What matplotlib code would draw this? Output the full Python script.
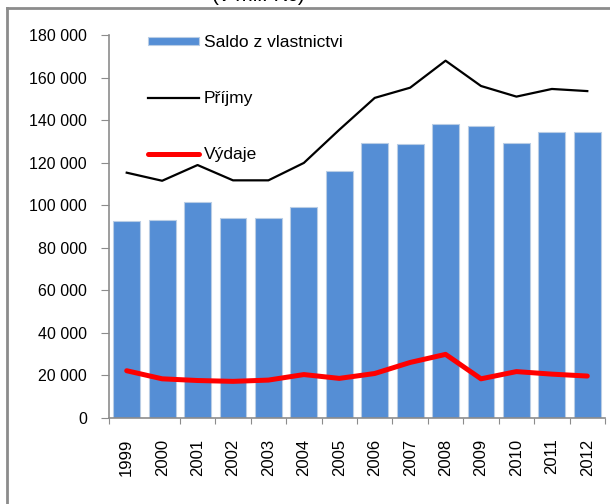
import matplotlib.pyplot as plt
from matplotlib.lines import Line2D
from matplotlib.ticker import FuncFormatter, FixedLocator

plt.rcParams["font.family"] = ["Liberation Sans", "DejaVu Sans"]

years = ["1999", "2000", "2001", "2002", "2003", "2004", "2005",
         "2006", "2007", "2008", "2009", "2010", "2011", "2012"]
saldo = [92400, 93000, 101500, 94100, 94100, 99300, 116200,
         129400, 128900, 138300, 137300, 129400, 134300, 134300]
prijmy = [115300, 111500, 118900, 111700, 111700, 119900, 135500,
          150500, 155300, 168000, 156100, 151100, 154700, 153700]
vydaje = [22100, 18300, 17500, 17100, 17700, 20300, 18500,
          20800, 26000, 29800, 18300, 21700, 20500, 19600]

W, H = 610, 504
fig = plt.figure(figsize=(W / 100, H / 100), dpi=100)

# outer frame (only left and top edges are visible in the crop)
fig.add_artist(Line2D([7 / W, 7 / W], [0, 1 - 8 / H], transform=fig.transFigure,
                      color="#8c8c8c", lw=2))
fig.add_artist(Line2D([7 / W, 1], [1 - 8 / H, 1 - 8 / H], transform=fig.transFigure,
                      color="#8c8c8c", lw=2))
fig.text(305 / W, 1 - 5 / H, "(v mil. Kč)", ha="right", va="bottom",
         fontsize=15, color="black")

left, right, top, bottom = 109, 605, 35.2, 417.7
ax = fig.add_axes([left / W, 1 - bottom / H, (right - left) / W, (bottom - top) / H])

x = list(range(len(years)))
bars = ax.bar(x, saldo, width=0.76, color="#558ed5", edgecolor="#b9cde5", linewidth=0.8,
              label="Saldo z vlastnictvi", zorder=2)
l1, = ax.plot(x, prijmy, color="black", lw=1.6, label="Příjmy", zorder=3)
l2, = ax.plot(x, vydaje, color="#ff0000", lw=3.6, label="Výdaje", zorder=3,
              solid_capstyle="round", solid_joinstyle="round")

ax.set_xlim(-0.5, len(years) - 0.5)
ax.set_ylim(0, 180000)
ax.set_yticks(range(0, 180001, 20000))
ax.yaxis.set_major_formatter(FuncFormatter(lambda v, p: f"{int(v):,}".replace(",", " ")))

# boundary ticks (the one between 1999 and 2000 is missing in the source)
bounds = [-0.5] + [i + 0.5 for i in range(1, len(years))]
ax.xaxis.set_major_locator(FixedLocator(bounds))
ax.xaxis.set_major_formatter(FuncFormatter(lambda v, p: ""))
ax.xaxis.set_minor_locator(FixedLocator(x))
ax.set_xticklabels(years, minor=True, rotation=90)

for s in ["top", "right"]:
    ax.spines[s].set_visible(False)
for s in ["left", "bottom"]:
    ax.spines[s].set_color("#8c8c8c")
    ax.spines[s].set_linewidth(1.2)

ax.tick_params(axis="y", length=6, color="#8c8c8c", labelsize=11.5, pad=10)
ax.tick_params(axis="x", which="major", length=4, color="#8c8c8c")
ax.tick_params(axis="x", which="minor", length=0, labelsize=12, pad=15)

ax.legend(handles=[bars, l1, l2], loc="upper left", bbox_to_anchor=(0.079, 1.0),
          frameon=False, fontsize=12.5, labelspacing=2.35, handlelength=2.9,
          handleheight=0.4, handletextpad=0.3, borderpad=0, borderaxespad=0)

fig.savefig("out.png", dpi=100)
